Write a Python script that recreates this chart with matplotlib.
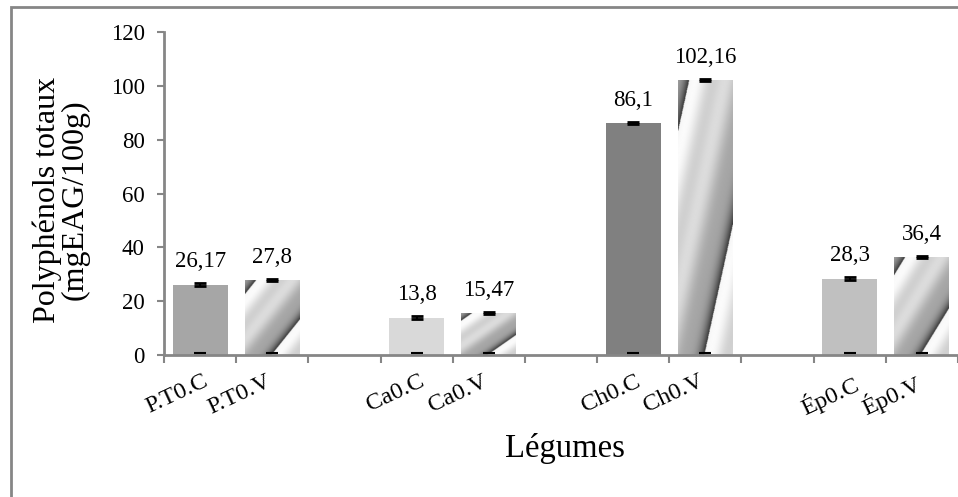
import numpy as np
import matplotlib
matplotlib.use("Agg")
import matplotlib.pyplot as plt
from matplotlib.patches import Rectangle
from matplotlib.transforms import ScaledTranslation

# ---- data ----
categories = ["P.T0.C", "P.T0.V", "Ca0.C", "Ca0.V", "Ch0.C", "Ch0.V", "Ép0.C", "Ép0.V"]
slots = [0, 1, 3, 4, 6, 7, 9, 10]
values = [26.17, 27.8, 13.8, 15.47, 86.1, 102.16, 28.3, 36.4]
errors = [0.5, 0.3, 0.6, 0.4, 0.4, 0.4, 0.6, 0.5]
base_values = [0, 0, 0, 0, 0, 0, 0, 0]
base_errors = [0.6, 0.6, 0.6, 0.6, 0.6, 0.6, 0.6, 0.6]
solid_colors = ["#a6a6a6", None, "#d9d9d9", None, "#808080", None, "#c0c0c0", None]
yticks = [0, 20, 40, 60, 80, 100, 120]

plt.rcParams['font.family'] = ['Liberation Serif', 'DejaVu Serif']

W, H = 958, 497
fig = plt.figure(figsize=(W / 100, H / 100), dpi=100)
ax = fig.add_axes([164 / W, 1 - 355 / H, (958 - 164) / W, (355 - 32) / H])

gray = "#868686"

# texture for the patterned bars (stretched to each bar)
def texture(n=300, m=120):
    v = np.linspace(0, 1, n)[:, None]
    u = np.linspace(0, 1, m)[None, :]
    phase = u - 1.1 * v
    t = np.mod((phase + 0.9) / 1.38, 1.0)
    img = 0.96 - 0.3 * t - 0.45 * t ** 8 + 0.05 * np.sin(2 * np.pi * t * 2.5)
    return np.clip(img, 0, 1)

tex = texture()

bars = ax.bar(slots, values, width=0.76, color=[c if c else "white" for c in solid_colors],
              edgecolor="none", zorder=2)
for b, c in zip(bars, solid_colors):
    if c is None:
        x0, w, h = b.get_x(), b.get_width(), b.get_height()
        im = ax.imshow(tex, cmap="gray", vmin=0, vmax=1, origin="lower",
                       extent=[x0, x0 + w, 0, h], aspect="auto", zorder=2.5,
                       interpolation="bilinear")
        im.set_clip_path(b)

ax.errorbar(slots, values, yerr=errors, fmt="none", ecolor="black", elinewidth=1.5,
            capsize=4, capthick=2, zorder=4)
ax.errorbar(slots, base_values, yerr=base_errors, fmt="none", ecolor="black",
            elinewidth=0, capsize=4, capthick=1.5, zorder=6)

for x, v in zip(slots, values):
    ax.annotate(str(v).replace(".", ","), (x, v), xytext=(0, 9), textcoords="offset points",
                ha="center", va="bottom", fontsize=16.5)

ax.set_xlim(-0.5, 10.5)
ax.set_ylim(0, 120)
ax.set_yticks(yticks)
ax.set_yticklabels([str(t) for t in yticks], fontsize=16.5)
ax.tick_params(axis="y", direction="out", length=5, width=1.5, color=gray, pad=9)

ax.set_xticks(slots)
ax.set_xticklabels(categories, fontsize=17.5, rotation=25, ha="right", va="top",
                   rotation_mode="anchor")
ax.set_xticks(np.arange(-0.5, 11, 1), minor=True)
ax.tick_params(axis="x", which="major", length=0, pad=0)
ax.tick_params(axis="x", which="minor", direction="out", length=6, width=1.5, color=gray)
for i, lab in enumerate(ax.get_xticklabels()):
    dx = 2 if i % 2 == 0 else -7
    lab.set_transform(lab.get_transform() + ScaledTranslation(dx / 100, -16 / 100, fig.dpi_scale_trans))

for s in ["top", "right"]:
    ax.spines[s].set_visible(False)
for s in ["left", "bottom"]:
    ax.spines[s].set_color(gray)
    ax.spines[s].set_linewidth(2)
ax.spines["bottom"].set_zorder(5)

fig.text(61 / W, 1 - 200 / H, "Polyphénols totaux\n(mgEAG/100g)", rotation=90,
         ha="center", va="center", multialignment="center", fontsize=23, linespacing=0.95)
fig.text(565 / W, 1 - 448 / H, "Légumes", ha="center", va="center", fontsize=23.5)

fig.patches.append(Rectangle((11 / W, -1), 2, 1 + (497 - 7) / H, transform=fig.transFigure,
                             fill=False, edgecolor=gray, lw=2))

fig.savefig("out.png", dpi=100)
